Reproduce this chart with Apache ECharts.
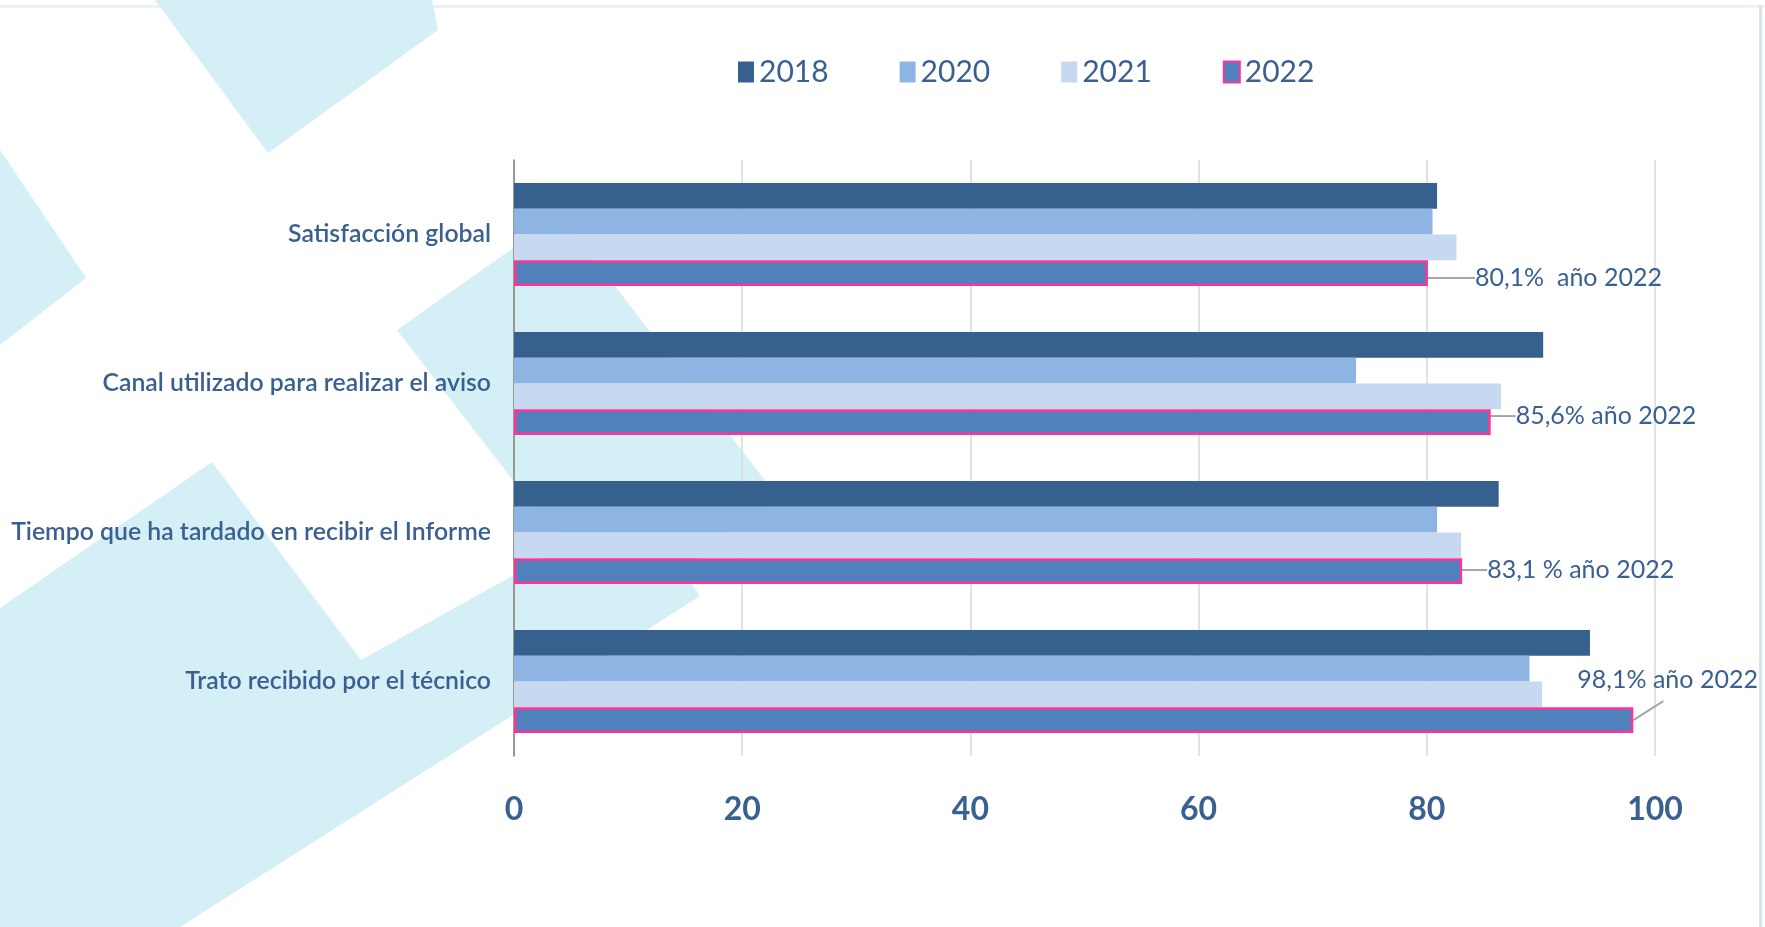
<!DOCTYPE html>
<html>
<head>
<meta charset="utf-8">
<title>Satisfacción</title>
<script src="https://cdn.jsdelivr.net/npm/echarts@6/dist/echarts.min.js"></script>
<style>
  html, body { margin: 0; padding: 0; background: #ffffff; }
  #panel { width: 1765px; height: 927px; }
</style>
</head>
<body>
<div id="panel"></div>
<script>
// datos
const categories = [
  'Satisfacción global',
  'Canal utilizado para realizar el aviso',
  'Tiempo que ha tardado en recibir el Informe',
  'Trato recibido por el técnico'
];
const years = ['2018', '2020', '2021', '2022'];
const values2018 = [80.9, 90.2, 86.3, 94.3];
const values2020 = [80.5, 73.8, 80.9, 89.0];
const values2021 = [82.6, 86.5, 83.0, 90.1];
const values2022 = [80.1, 85.6, 83.1, 98.1];
const labels2022 = ['80,1%  año 2022', '85,6% año 2022', '83,1 % año 2022', '98,1% año 2022'];
const xTicks = [0, 20, 40, 60, 80, 100];

const TEXT = '#3a5f91';
const COLORS = ['#36618f', '#8eb4e3', '#c6d9f1', '#4f81bd'];
const PINK = '#ff3399';
const CYAN = '#d4eff6';
const GUIDE = '#a6a6a6';

// desplazamiento de las etiquetas (estilo)
const labelDx = [47, 25, 25, -56];
const labelDy = [5, -6, -1, -40];

const myChart = echarts.init(document.getElementById('panel'));

const allValues = [values2018, values2020, values2021, values2022];
const series = years.map((y, i) => {
  const s = {
    name: y,
    type: 'bar',
    data: allValues[i],
    barGap: '0%',
    barCategoryGap: '31%',
    itemStyle: { color: COLORS[i] },
    emphasis: { disabled: true }
  };
  if (i === 3) {
    // la ultima etiqueta lleva la guia diagonal dibujada aparte
    s.data = allValues[i].map((v, k) => (k === 3 ? { value: v, labelLine: { show: false } } : v));
    s.itemStyle = { color: COLORS[i], borderColor: PINK, borderWidth: 2.5 };
    s.label = {
      show: true,
      position: 'right',
      distance: 0,
      color: TEXT,
      fontFamily: 'Lato',
      fontSize: 25,
      formatter: (p) => labels2022[p.dataIndex]
    };
    s.labelLine = { show: true, lineStyle: { color: GUIDE, width: 2 } };
    s.labelLayout = (p) => ({ dx: labelDx[p.dataIndex], dy: labelDy[p.dataIndex] });
  }
  return s;
});

const bgShapes = [
  { id: 'top', type: 'rect', z: -10, silent: true, shape: { x: 0, y: 5, width: 1765, height: 3 }, style: { fill: '#eef2f7' } },
  { id: 'right', type: 'rect', z: -10, silent: true, shape: { x: 1759, y: 5, width: 3, height: 922 }, style: { fill: '#d6e3f1' } },
  { id: 'p1', type: 'polygon', z: -10, silent: true, shape: { points: [[155, 0], [432, 0], [438, 30], [268, 153]] }, style: { fill: CYAN } },
  { id: 'p2', type: 'polygon', z: -10, silent: true, shape: { points: [[0, 150], [86, 278], [0, 345]] }, style: { fill: CYAN } },
  { id: 'p3', type: 'polygon', z: -10, silent: true, shape: { points: [[397, 330], [560, 215], [780, 500], [617, 615]] }, style: { fill: CYAN } },
  { id: 'p4', type: 'polygon', z: -10, silent: true, shape: { points: [[0, 608], [212, 462], [361, 660], [640, 505], [700, 596], [180, 927], [0, 927]] }, style: { fill: CYAN } }
];

const option = {
  backgroundColor: '#ffffff',
  animation: false,
  textStyle: { fontFamily: 'Lato' },
  graphic: bgShapes,
  legend: {
    data: years,
    left: 733,
    top: 52,
    icon: 'rect',
    itemWidth: 16,
    itemHeight: 21,
    itemGap: 71,
    textStyle: { color: TEXT, fontSize: 30, fontFamily: 'Lato', lineHeight: 30 }
  },
  grid: {
    left: 514,
    right: 110,
    top: 160,
    bottom: 171,
    containLabel: false
  },
  xAxis: {
    type: 'value',
    min: xTicks[0],
    max: xTicks[xTicks.length - 1],
    interval: xTicks[1] - xTicks[0],
    axisLine: { show: false },
    axisTick: { show: false },
    splitLine: { show: true, lineStyle: { color: '#d9d9d9', width: 1.5 } },
    axisLabel: { color: TEXT, fontSize: 32, fontWeight: 'bold', fontFamily: 'Lato', margin: 38 }
  },
  yAxis: {
    type: 'category',
    data: categories,
    inverse: true,
    axisLine: { show: true, lineStyle: { color: '#808080', width: 1.5 } },
    axisTick: { show: false },
    axisLabel: { color: TEXT, fontSize: 24.8, fontWeight: 600, fontFamily: 'Lato', margin: 23 }
  },
  series: series
};

myChart.setOption(option);

// guia de la etiqueta 98,1%: parte del final de la barra calculado por la libreria
const lay = myChart.getModel().getSeriesByIndex(3).getData().getItemLayout(3);
const bx = lay.x + lay.width;
const by = lay.y + lay.height / 2;
const ex = bx + labelDx[3] + 86;
const ey = by + labelDy[3] + 21;
myChart.setOption({
  graphic: [{
    id: 'guia4',
    type: 'line',
    silent: true,
    z: 5,
    shape: { x1: bx, y1: by, x2: ex, y2: ey },
    style: { stroke: GUIDE, lineWidth: 2 }
  }]
});
</script>
</body>
</html>
